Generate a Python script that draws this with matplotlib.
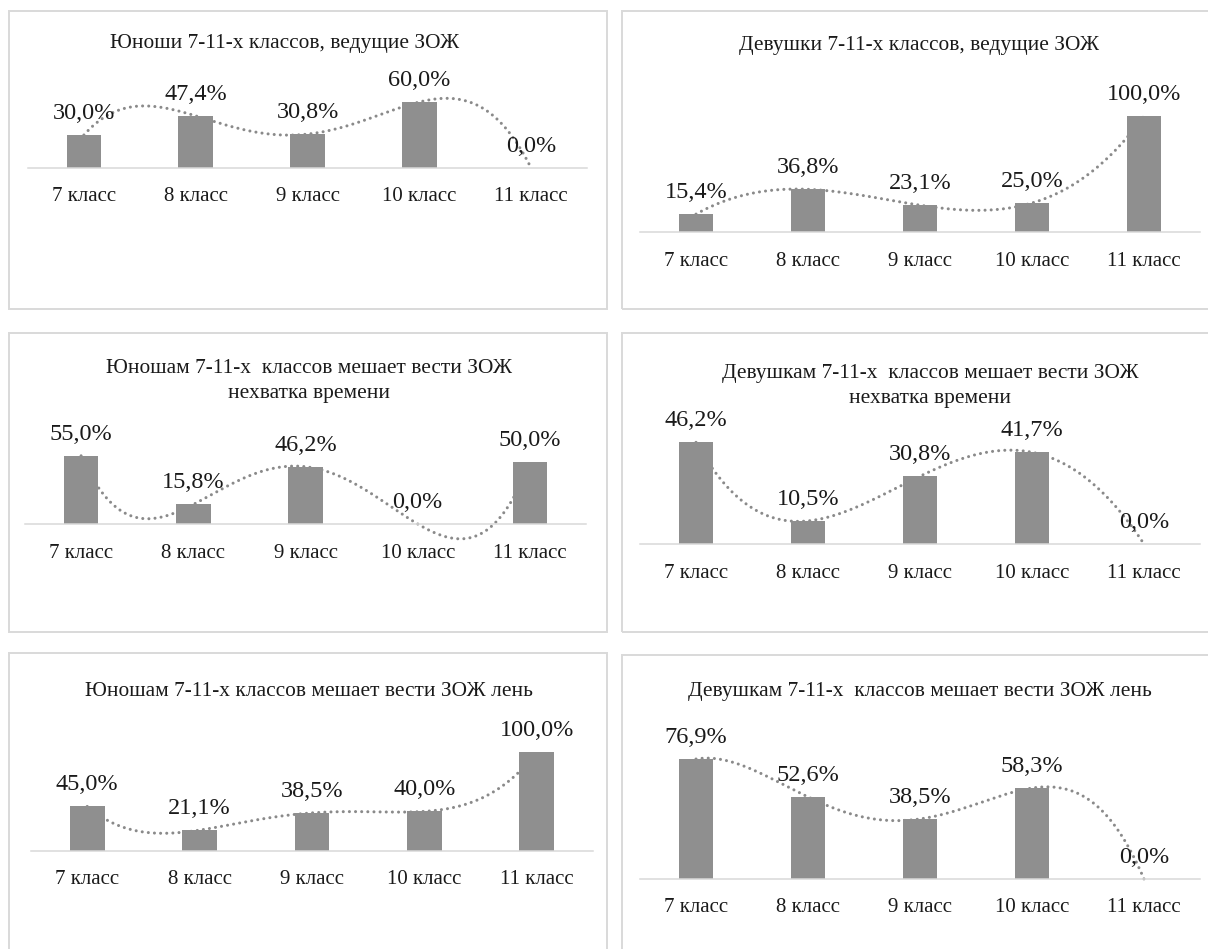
import numpy as np
import matplotlib
matplotlib.use("Agg")
import matplotlib.pyplot as plt
from matplotlib.patches import Rectangle

plt.rcParams["font.family"] = ["Liberation Serif", "DejaVu Serif"]

# ---- data -------------------------------------------------------------
classes = ["7 класс", "8 класс", "9 класс", "10 класс", "11 класс"]

boys_healthy = [30.0, 47.4, 30.8, 60.0, 0.0]
girls_healthy = [15.4, 36.8, 23.1, 25.0, 100.0]
boys_no_time = [55.0, 15.8, 46.2, 0.0, 50.0]
girls_no_time = [46.2, 10.5, 30.8, 41.7, 0.0]
boys_lazy = [45.0, 21.1, 38.5, 40.0, 100.0]
girls_lazy = [76.9, 52.6, 38.5, 58.3, 0.0]

titles = [
    ["Юноши 7-11-х классов, ведущие ЗОЖ"],
    ["Девушки 7-11-х классов, ведущие ЗОЖ"],
    ["Юношам 7-11-х  классов мешает вести ЗОЖ", "нехватка времени"],
    ["Девушкам 7-11-х  классов мешает вести ЗОЖ", "нехватка времени"],
    ["Юношам 7-11-х классов мешает вести ЗОЖ лень"],
    ["Девушкам 7-11-х  классов мешает вести ЗОЖ лень"],
]
series = [boys_healthy, girls_healthy, boys_no_time, girls_no_time,
          boys_lazy, girls_lazy]

# ---- layout (pixels) --------------------------------------------------
W, H = 1208, 949
# frame box: x0, y0, x1, y1
frames = [(9, 11, 607, 309), (622, 11, 1216, 309),
          (9, 333, 607, 632), (622, 333, 1216, 632),
          (9, 653, 607, 958), (622, 655, 1216, 958)]
# plot area: x-left, x-right, baseline y, pixels per percent
plots = [(28, 587, 168, 1.10), (640, 1200, 232, 1.16),
         (25, 586, 524, 1.24), (640, 1200, 544, 2.20),
         (31, 593, 851, 0.99), (640, 1200, 879, 1.56)]
# title centre x and first-line baseline y
title_pos = [(285, 48), (919, 50), (309, 373), (930, 378),
             (309, 696), (920, 696)]

BAR = "#8f8f8f"
TEXT = "#1a1a1a"
EDGE = "#d9d9d9"
PT = 72 / 100  # points per pixel

fig = plt.figure(figsize=(W / 100, H / 100), dpi=100)
fig.patch.set_facecolor("white")

for (fx0, fy0, fx1, fy1) in frames:
    fig.patches.append(Rectangle((fx0 / W, 1 - fy1 / H), (fx1 - fx0) / W,
                                 (fy1 - fy0) / H, transform=fig.transFigure,
                                 facecolor="none", edgecolor=EDGE,
                                 linewidth=1.4, zorder=0))

ymin, ymax = -40, 125
x = np.arange(len(classes))
xs = np.linspace(0, len(classes) - 1, 300)

for vals, (px0, px1, base, k), lines, (tx, ty) in zip(series, plots, titles,
                                                     title_pos):
    top = base - ymax * k
    bot = base - ymin * k
    ax = fig.add_axes([px0 / W, 1 - bot / H, (px1 - px0) / W, (bot - top) / H])
    ax.set_xlim(-0.5, len(classes) - 0.5)
    ax.set_ylim(ymin, ymax)
    ax.patch.set_visible(False)
    for s in ("top", "left", "right"):
        ax.spines[s].set_visible(False)
    ax.spines["bottom"].set_position(("data", 0))
    ax.spines["bottom"].set_color(EDGE)
    ax.spines["bottom"].set_linewidth(1.1)
    ax.set_yticks([])
    ax.set_xticks(x)
    ax.set_xticklabels(classes, fontsize=15, color=TEXT)
    ax.tick_params(axis="x", length=0, pad=33.5 * PT)
    for lab in ax.get_xticklabels():
        lab.set_va("baseline")

    # polynomial trend (degree 4) through the five values
    coef = np.polyfit(x, vals, 4)
    ax.plot(xs, np.polyval(coef, xs), color="#8a8a8a", linewidth=2.2,
            linestyle=(0, (0.01, 2.0)), dash_capstyle="round", zorder=1,
            clip_on=False)

    ax.bar(x, vals, width=0.31, color=BAR, zorder=2)

    for i, v in enumerate(vals):
        ax.annotate(f"{v:.1f}".replace(".", ",") + "%", (i, v),
                    xytext=(0, 16 * PT), textcoords="offset points",
                    ha="center", va="baseline", fontsize=17.5, color=TEXT,
                    zorder=3)

    for j, line in enumerate(lines):
        fig.text(tx / W, 1 - (ty + 25 * j) / H, line, ha="center",
                 va="baseline", fontsize=15.4, color=TEXT)

fig.savefig("out.png", dpi=100, facecolor="white")
